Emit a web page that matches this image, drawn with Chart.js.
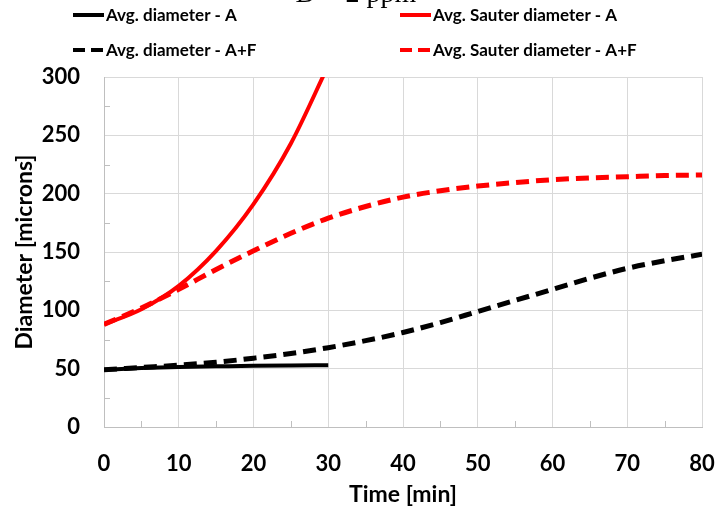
<!DOCTYPE html>
<html>
<head>
<meta charset="utf-8">
<script src="https://cdn.jsdelivr.net/npm/chart.js@4.4.1/dist/chart.umd.min.js"></script>
<style>
  html, body { margin: 0; padding: 0; background: #fff; }
  #wrap { width: 715px; height: 508px; }
</style>
</head>
<body>
<div id="wrap"><canvas id="myChart" width="715" height="508"></canvas></div>
<script>
// time axis for each run (minutes)
var timeA = [0, 5, 10, 15, 20, 25, 30];
var timeAF = [0, 5, 10, 15, 20, 25, 30, 35, 40, 45, 50, 55, 60, 65, 70, 75, 80];

// diameters in microns
var avgDiamA = [49, 50.5, 51.5, 52, 52.5, 52.8, 53];
var sauterA = [88, 101, 121, 151, 191, 243, 310];
var avgDiamAF = [49, 51, 53, 55.5, 59, 63, 68, 74, 81, 89.5, 99, 108.5, 118, 127.5, 136, 142.5, 148];
var sauterAF = [88, 102, 118, 135, 151, 166, 179, 189, 197, 202.5, 206.5, 209.5, 212, 213.5, 214.5, 215.5, 216];

var seriesLabels = ["Avg. diameter - A", "Avg. Sauter diameter - A", "Avg. diameter - A+F", "Avg. Sauter diameter - A+F"];
var titleText = "D = 2 ppm";

var FONT = "Lato, 'Open Sans', sans-serif";
var GRID = "#d9d9d9";

function pts(xs, ys) {
    return xs.map(function (x, i) { return { x: x, y: ys[i] }; });
}

// draws the partly cut title, the 2x2 legend and the small inside ticks
var decorations = {
    id: "decorations",
    afterDraw: function (chart) {
        var ctx = chart.ctx;
        var xs = chart.scales.x, ys = chart.scales.y;
        var area = chart.chartArea;
        ctx.save();

        // minor ticks, inside the plot
        ctx.strokeStyle = "#bfbfbf";
        ctx.lineWidth = 1;
        ctx.beginPath();
        for (var t = 5; t < 80; t += 10) {
            var px = Math.round(xs.getPixelForValue(t)) + 0.5;
            ctx.moveTo(px, area.bottom);
            ctx.lineTo(px, area.bottom - 6);
        }
        for (var v = 25; v < 300; v += 50) {
            var py = Math.round(ys.getPixelForValue(v)) + 0.5;
            ctx.moveTo(area.left, py);
            ctx.lineTo(area.left + 6, py);
        }
        ctx.stroke();

        // title, mostly above the top edge
        ctx.fillStyle = "#000";
        ctx.font = "28px 'Liberation Serif', serif";
        ctx.textAlign = "center";
        ctx.textBaseline = "alphabetic";
        ctx.fillText(titleText, 356, 2);

        // legend
        var slots = [[73, 15], [400, 15], [73, 50], [400, 50]];
        ctx.font = "bold 17px " + FONT;
        ctx.textAlign = "left";
        ctx.textBaseline = "middle";
        chart.data.datasets.forEach(function (ds, i) {
            var s = slots[i];
            ctx.strokeStyle = ds.borderColor;
            ctx.lineWidth = 4;
            ctx.setLineDash(ds.borderDash && ds.borderDash.length ? [12, 6] : []);
            ctx.beginPath();
            ctx.moveTo(s[0], s[1]);
            ctx.lineTo(s[0] + 31, s[1]);
            ctx.stroke();
            ctx.setLineDash([]);
            ctx.fillStyle = "#000";
            ctx.fillText(ds.label, s[0] + 33, s[1] + 1);
        });
        ctx.restore();
    }
};

var ctx = document.getElementById("myChart").getContext("2d");
var myChart = new Chart(ctx, {
    type: "line",
    data: {
        datasets: [
            {
                label: seriesLabels[0],
                data: pts(timeA, avgDiamA),
                borderColor: "#000000",
                borderWidth: 4,
            },
            {
                label: seriesLabels[1],
                data: pts(timeA, sauterA),
                borderColor: "#ff0000",
                borderWidth: 4,
                clip: 0,
            },
            {
                label: seriesLabels[2],
                data: pts(timeAF, avgDiamAF),
                borderColor: "#000000",
                borderWidth: 5,
                borderDash: [13, 7],
            },
            {
                label: seriesLabels[3],
                data: pts(timeAF, sauterAF),
                borderColor: "#ff0000",
                borderWidth: 5,
                borderDash: [13, 7],
            },
        ],
    },
    options: {
        responsive: false,
        animation: false,
        events: [],
        elements: {
            point: { radius: 0 },
            line: { cubicInterpolationMode: "monotone", fill: false },
        },
        layout: {
            padding: { top: 77, right: 13, left: 9, bottom: 0 }
        },
        plugins: {
            legend: { display: false },
            title: { display: false },
            tooltip: { enabled: false },
        },
        scales: {
            x: {
                type: "linear",
                min: 0,
                max: 80,
                ticks: {
                    stepSize: 10,
                    color: "#000",
                    padding: 24,
                    font: { family: FONT, size: 22, weight: "bold" },
                },
                grid: { color: GRID, drawTicks: false },
                border: { color: "#bfbfbf" },
                title: {
                    display: true,
                    text: "Time [min]",
                    color: "#000",
                    font: { family: FONT, size: 23, weight: "bold" },
                    padding: { top: 0, bottom: 0 },
                },
                afterFit: function (scale) {
                    scale.height = 81;
                    scale.paddingLeft = 0;
                    scale.paddingRight = 0;
                },
            },
            y: {
                min: 0,
                max: 300,
                ticks: {
                    stepSize: 50,
                    color: "#000",
                    padding: 24,
                    font: { family: FONT, size: 22, weight: "bold" },
                },
                grid: { color: GRID, drawTicks: false },
                border: { color: "#bfbfbf" },
                title: {
                    display: true,
                    text: "Diameter [microns]",
                    color: "#000",
                    font: { family: FONT, size: 23, weight: "bold" },
                    padding: { top: 2, bottom: 0 },
                },
                afterFit: function (scale) {
                    scale.width = 95;
                    scale.paddingTop = 0;
                    scale.paddingBottom = 0;
                },
            },
        },
    },
    plugins: [decorations],
});
</script>
</body>
</html>
